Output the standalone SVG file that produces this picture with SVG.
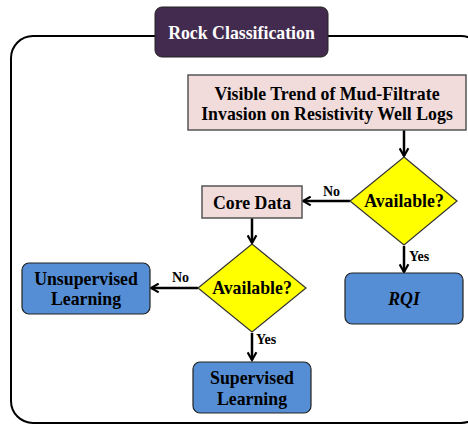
<svg xmlns="http://www.w3.org/2000/svg" width="468" height="424" viewBox="0 0 468 424">
<defs>
<style>
text{font-family:"Liberation Serif","Times New Roman",serif;font-weight:bold;text-anchor:middle;fill:#000}
.lbl{font-size:17.8px}
.small{font-size:14px;text-anchor:start}
.pink{fill:#f2dcdb;stroke:#555;stroke-width:1.5}
.blue{fill:#558ed5;stroke:#222;stroke-width:1.2}
.dia{fill:#ffff00;stroke:#333;stroke-width:1.2}
.edge{stroke:#000;stroke-width:2.5;fill:none;marker-end:url(#arr)}
</style>
<marker id="arr" viewBox="0 0 10 10" refX="8" refY="5" markerWidth="4.4" markerHeight="4.4" orient="auto" markerUnits="strokeWidth">
<polyline points="1,1 8,5 1,9" fill="none" stroke="#000" stroke-width="2"/>
</marker>
</defs>
<rect width="468" height="424" fill="#fff"/>
<g id="frame">
<rect x="11" y="36" width="472" height="387" rx="22" fill="none" stroke="#000" stroke-width="2"/>
</g>
<g id="title">
<rect x="155" y="7" width="173" height="50" rx="7" fill="#432b50" stroke="#222" stroke-width="1"/>
<text x="241.5" y="39" class="lbl" style="fill:#fff">Rock Classification</text>
</g>
<g id="connectors">
<line x1="404" y1="130" x2="404" y2="156" class="edge"/>
<line x1="350" y1="201" x2="303" y2="201" class="edge"/>
<line x1="252" y1="218" x2="252" y2="243" class="edge"/>
<line x1="404" y1="246" x2="404" y2="272" class="edge"/>
<line x1="198" y1="288" x2="151" y2="288" class="edge"/>
<line x1="252" y1="333" x2="252" y2="360" class="edge"/>
<text x="323" y="196" class="small">No</text>
<text x="172" y="282" class="small">No</text>
<text x="409" y="261" class="small">Yes</text>
<text x="256" y="344" class="small">Yes</text>
</g>
<g id="trend">
<rect x="188" y="75" width="278" height="55" class="pink"/>
<text x="327" y="100" class="lbl">Visible Trend of Mud-Filtrate</text>
<text x="327" y="120" class="lbl">Invasion on Resistivity Well Logs</text>
</g>
<g id="available1">
<polygon points="404,157 457,201 404,245 350,201" class="dia"/>
<text x="404" y="207" class="lbl">Available?</text>
</g>
<g id="coredata">
<rect x="202" y="186" width="100" height="32" class="pink"/>
<text x="252" y="209" class="lbl">Core Data</text>
</g>
<g id="available2">
<polygon points="252,244 306,288 252,332 198,288" class="dia"/>
<text x="252" y="294" class="lbl">Available?</text>
</g>
<g id="unsupervised">
<rect x="22" y="263" width="128" height="51" rx="7" class="blue"/>
<text x="86" y="285" class="lbl">Unsupervised</text>
<text x="86" y="305" class="lbl">Learning</text>
</g>
<g id="supervised">
<rect x="193" y="362" width="118" height="51" rx="7" class="blue"/>
<text x="252" y="384" class="lbl">Supervised</text>
<text x="252" y="405" class="lbl">Learning</text>
</g>
<g id="rqi">
<rect x="345" y="273" width="118" height="51" rx="7" class="blue"/>
<text x="404" y="305" class="lbl" font-style="italic">RQI</text>
</g>
</svg>
